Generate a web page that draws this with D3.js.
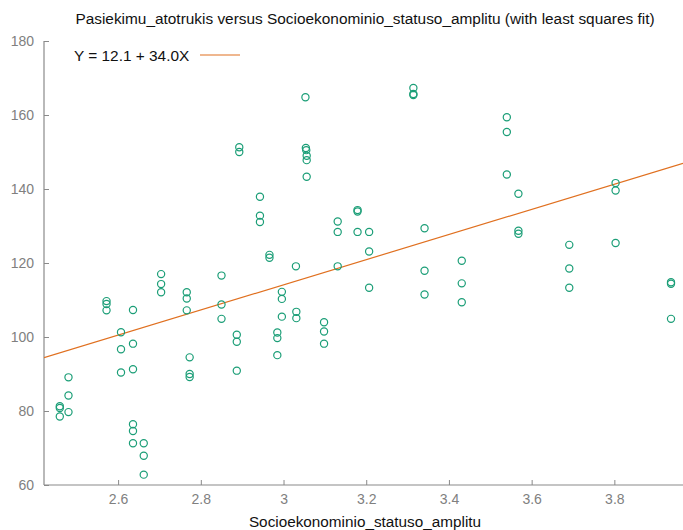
<!DOCTYPE html>
<html>
<head>
<meta charset="utf-8">
<title>Pasiekimu_atotrukis vs Socioekonominio_statuso_amplitu</title>
<script src="https://cdn.jsdelivr.net/npm/d3@7"></script>
<style>
  body { margin: 0; background: #fff; }
  svg { font-family: "Liberation Sans", Arial, sans-serif; }
</style>
</head>
<body>
<svg id="chart" width="683" height="530"></svg>
<script>
// x = Socioekonominio_statuso_amplitu, y = Pasiekimu_atotrukis
var xs = [2.459, 2.459, 2.459, 2.480, 2.480, 2.480,
  2.572, 2.572, 2.572, 2.607, 2.607, 2.607,
  2.636, 2.636, 2.636, 2.636, 2.636, 2.636,
  2.662, 2.662, 2.662,
  2.704, 2.704, 2.704,
  2.766, 2.766, 2.766, 2.773, 2.773, 2.773,
  2.850, 2.850, 2.850,
  2.887, 2.887, 2.887, 2.893, 2.893,
  2.943, 2.943, 2.943, 2.966, 2.966,
  2.985, 2.985, 2.985, 2.996, 2.996, 2.996,
  3.030, 3.031, 3.031,
  3.053, 3.054, 3.055, 3.056, 3.056, 3.056,
  3.098, 3.098, 3.098,
  3.131, 3.131, 3.131,
  3.179, 3.179, 3.179,
  3.207, 3.207, 3.207,
  3.314, 3.314, 3.314,
  3.341, 3.341, 3.341,
  3.431, 3.431, 3.431,
  3.540, 3.540, 3.540,
  3.568, 3.568, 3.568,
  3.691, 3.691, 3.691,
  3.803, 3.803, 3.803,
  3.937, 3.937, 3.937];
var ys = [81.3, 80.8, 78.5, 89.1, 84.2, 79.7,
  109.7, 108.9, 107.2, 101.3, 96.7, 90.4,
  107.3, 98.2, 91.3, 76.4, 74.6, 71.3,
  71.3, 67.9, 62.8,
  117.0, 114.3, 112.1,
  112.1, 110.4, 107.2, 94.5, 90.0, 89.2,
  116.6, 108.8, 104.9,
  100.6, 98.7, 90.9, 151.3, 150.0,
  137.9, 132.8, 131.1, 122.2, 121.4,
  101.2, 99.7, 95.1, 112.2, 110.3, 105.5,
  119.1, 106.8, 105.1,
  164.8, 151.1, 150.5, 149.0, 147.8, 143.3,
  104.0, 101.5, 98.2,
  131.2, 128.4, 119.1,
  134.3, 133.9, 128.4,
  128.4, 123.1, 113.3,
  167.3, 165.7, 165.4,
  129.4, 117.9, 111.5,
  120.6, 114.5, 109.4,
  159.4, 155.4, 143.9,
  138.7, 128.7, 127.9,
  124.9, 118.5, 113.3,
  141.6, 139.6, 125.4,
  114.8, 114.4, 104.9];

var fitA = 12.1, fitB = 34.0;
var xTicks = [2.6, 2.8, 3, 3.2, 3.4, 3.6, 3.8];
var yTicks = [60, 80, 100, 120, 140, 160, 180];
var titleText = "Pasiekimu_atotrukis versus Socioekonominio_statuso_amplitu (with least squares fit)";
var xLabel = "Socioekonominio_statuso_amplitu";
var legendText = "Y = 12.1 + 34.0X";

var svg = d3.select("#chart");
var padL = 44, padR = 683, padT = 41, padB = 485;
var green = "#1b9e77", orange = "#e07020", axisCol = "#8a8a8a", labCol = "#808080";

var x = d3.scaleLinear().domain([2.4208, 3.966]).range([padL, padR]);
var y = d3.scaleLinear().domain([60, 180]).range([padB, padT]);

// axes: only left and bottom, ticks pointing inward
var xAxis = svg.append("g").attr("transform", "translate(0," + padB + ")")
  .call(d3.axisBottom(x).tickValues(xTicks).tickSize(-5).tickPadding(9).tickFormat(d3.format("")));
var yAxis = svg.append("g").attr("transform", "translate(" + padL + ",0)")
  .call(d3.axisLeft(y).tickValues(yTicks).tickSize(-5).tickPadding(10).tickFormat(d3.format("")));

[xAxis, yAxis].forEach(function(g) {
  g.select(".domain").attr("stroke", axisCol).attr("stroke-width", 1.2);
  g.selectAll(".tick line").attr("stroke", axisCol);
  g.selectAll(".tick text").attr("fill", labCol).attr("font-size", 14)
    .attr("font-family", "Liberation Sans, Arial, sans-serif");
});
xAxis.select(".domain").attr("d", "M" + padL + ",0H" + padR);
yAxis.select(".domain").attr("d", "M0," + padB + "V" + padT);

// fitted line
svg.append("clipPath").attr("id", "plotclip").append("rect")
  .attr("x", padL).attr("y", padT).attr("width", padR - padL).attr("height", padB - padT);
svg.append("line")
  .attr("clip-path", "url(#plotclip)")
  .attr("x1", x(2.4208)).attr("y1", y(fitA + fitB * 2.4208))
  .attr("x2", x(3.966)).attr("y2", y(fitA + fitB * 3.966))
  .attr("stroke", orange).attr("stroke-width", 1.2);

// points
svg.append("g").selectAll("circle")
  .data(d3.range(xs.length))
  .enter()
  .append("circle")
  .attr("cx", function(i) { return x(xs[i]); })
  .attr("cy", function(i) { return y(ys[i]); })
  .attr("r", 3.6)
  .attr("fill", "none")
  .attr("stroke", green)
  .attr("stroke-width", 1.2);

// title, axis label, legend
svg.append("text").attr("x", 365).attr("y", 24).attr("text-anchor", "middle")
  .attr("font-size", 15.4).attr("fill", "#111").text(titleText);
svg.append("text").attr("x", 365).attr("y", 527).attr("text-anchor", "middle")
  .attr("font-size", 15.3).attr("fill", "#111").text(xLabel);
svg.append("text").attr("x", 74).attr("y", 61)
  .attr("font-size", 15.4).attr("fill", "#111").text(legendText);
svg.append("line").attr("x1", 200).attr("x2", 240).attr("y1", 55).attr("y2", 55)
  .attr("stroke", orange).attr("stroke-width", 1.2);
</script>
</body>
</html>
